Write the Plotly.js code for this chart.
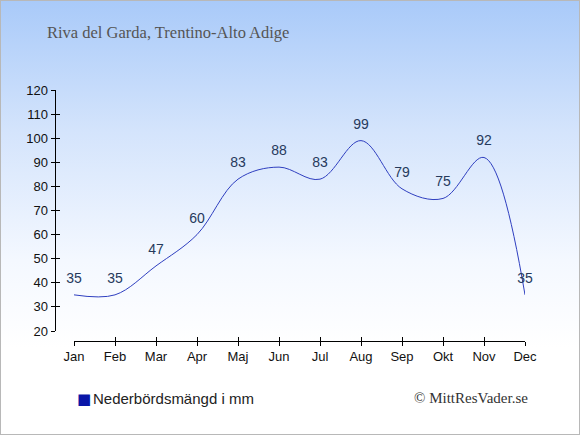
<!DOCTYPE html>
<html><head><meta charset="utf-8">
<script src="https://cdn.plot.ly/plotly-3.0.1.min.js"></script>
<style>
html,body{margin:0;padding:0;}
#wrap{width:578px;height:433px;border:1px solid #b8b8b8;background:linear-gradient(to bottom,#a9caf9 0%,#d4e4fc 30%,#f4f8ff 60%,#ffffff 80%,#ffffff 100%);position:relative;overflow:hidden;}
#chart{position:absolute;left:-1px;top:-1px;width:580px;height:435px;}
</style></head><body>
<div id="wrap"><div id="chart"></div></div>
<script>
const months = ["Jan","Feb","Mar","Apr","Maj","Jun","Jul","Aug","Sep","Okt","Nov","Dec"];
const precip = [35,35,47,60,83,88,83,99,79,75,92,35];
const yTicks = [20,30,40,50,60,70,80,90,100,110,120];
const W=580,H=435;
const px=v=>v/W, py=v=>1-v/H;
const xIdx = months.map((m,i)=>i);
const trace = {
  x: xIdx, y: precip, type:'scatter', mode:'lines+markers+text',
  line:{shape:'spline', smoothing:1, color:'#2f3fc0', width:1},
  marker:{size:12, color:'rgba(0,0,0,0)'},
  text: precip.map(String), textposition:'top center',
  textfont:{family:'Liberation Sans, Arial, sans-serif', size:14, color:'#263a5c'},
  hoverinfo:'skip', cliponaxis:false, showlegend:false
};
const ghost = {x:xIdx, y:precip, xaxis:'x2', yaxis:'y2', type:'scatter', mode:'lines', line:{width:0}, opacity:0, hoverinfo:'skip', showlegend:false};
const tickFont = {family:'Liberation Sans, Arial, sans-serif', size:13, color:'#111'};
const xbase = {domain:[px(74),px(525)], range:[0,11], tickmode:'array', tickvals:xIdx, showgrid:false, zeroline:false, fixedrange:true, anchor:'free', position:py(340.5), showline:true, linecolor:'#000', linewidth:1, tickcolor:'#000', ticklen:4, tickwidth:1};
const ybase = {domain:[py(331),py(90)], range:[20,120], tickmode:'array', tickvals:yTicks, showgrid:false, zeroline:false, fixedrange:true, anchor:'free', position:px(54.5), showline:true, linecolor:'#000', linewidth:1, tickcolor:'#000', ticklen:4, tickwidth:1};
const layout = {
  width:W, height:H, margin:{l:0,r:0,t:0,b:0},
  paper_bgcolor:'rgba(0,0,0,0)', plot_bgcolor:'rgba(0,0,0,0)',
  xaxis: Object.assign({}, xbase, {ticktext:months, ticks:'outside', tickfont:tickFont, ticklabelstandoff:0}),
  yaxis: Object.assign({}, ybase, {ticktext:yTicks.map(String), ticks:'outside', tickfont:tickFont, ticklabelstandoff:0}),
  xaxis2: Object.assign({}, xbase, {overlaying:'x', ticks:'inside', showticklabels:false, showline:false}),
  yaxis2: Object.assign({}, ybase, {overlaying:'y', ticks:'inside', showticklabels:false, showline:false}),
  showlegend:false,
  annotations:[
    {text:'Riva del Garda, Trentino-Alto Adige', xref:'paper', yref:'paper', x:px(45), y:py(32), xanchor:'left', yanchor:'middle', showarrow:false, font:{family:'Liberation Serif, Georgia, serif', size:16.5, color:'#555'}},
    {text:'■', xref:'paper', yref:'paper', x:px(75), y:py(399), xanchor:'left', yanchor:'middle', showarrow:false, font:{family:'DejaVu Sans, sans-serif', size:15, color:'#0a16a8'}},
    {text:'Nederbördsmängd i mm', xref:'paper', yref:'paper', x:px(91), y:py(398), xanchor:'left', yanchor:'middle', showarrow:false, font:{family:'Liberation Sans, Arial, sans-serif', size:15, color:'#222'}},
    {text:'© MittResVader.se', xref:'paper', yref:'paper', x:px(530), y:py(398), xanchor:'right', yanchor:'middle', showarrow:false, font:{family:'Liberation Serif, Georgia, serif', size:15, color:'#333'}}
  ]
};
Plotly.newPlot('chart',[trace, ghost],layout,{displayModeBar:false, staticPlot:true});
</script>
</body></html>
